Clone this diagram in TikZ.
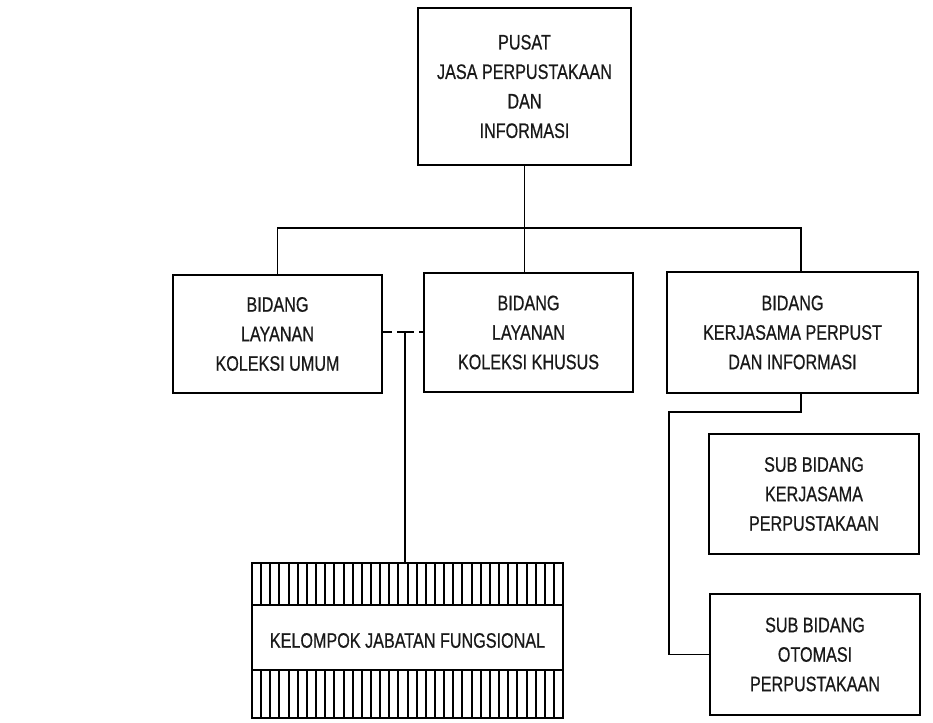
\documentclass[tikz,border=0pt]{standalone}
\usepackage{fontspec}
\setmainfont[FakeStretch=0.77,FakeBold=0.6]{Liberation Sans}
\begin{document}
\begin{tikzpicture}[x=1pt,y=-1pt,
  orgbox/.style={draw=black, line width=1.8pt, fill=white, align=center, inner sep=0pt,
    font=\fontsize{21}{29.5}\selectfont, text=black!90},
  conn/.style={line width=1.5pt, black}]
\useasboundingbox (0,0) rectangle (933,722);
\node[orgbox, minimum width=213, minimum height=157] (top) at (524.5,86.5)
  {PUSAT\\JASA PERPUSTAKAAN\\DAN\\INFORMASI};
\node[orgbox, minimum width=209, minimum height=118] (L) at (277.5,334)
  {BIDANG\\LAYANAN\\KOLEKSI UMUM};
\node[orgbox, minimum width=209, minimum height=119] (M) at (528.5,332.5)
  {BIDANG\\LAYANAN\\KOLEKSI KHUSUS};
\node[orgbox, minimum width=251, minimum height=121] (R) at (792.5,332.5)
  {BIDANG\\KERJASAMA PERPUST\\DAN INFORMASI};
\node[orgbox, minimum width=210, minimum height=120] (S1) at (814,494)
  {SUB BIDANG\\KERJASAMA\\PERPUSTAKAAN};
\node[orgbox, minimum width=210, minimum height=121] (S2) at (815,654.5)
  {SUB BIDANG\\OTOMASI\\PERPUSTAKAAN};
\node[orgbox, minimum width=311, minimum height=155] (K) at (407.5,640.5)
  {KELOMPOK JABATAN FUNGSIONAL};
% hatched bands of K
\draw[line width=1.4pt] (K.west |- 0,605) -- (K.east |- 0,605);
\draw[line width=1.4pt] (K.west |- 0,670) -- (K.east |- 0,670);
\foreach \i in {1,...,33} {
  \draw[line width=2pt] ({252+\i*9.15},563) -- ({252+\i*9.15},605);
  \draw[line width=2pt] ({252+\i*9.15},670) -- ({252+\i*9.15},718);
}
% connectors
\coordinate (bar) at (524.5,228);
\coordinate (rb) at (669,412);
\coordinate (dl) at (382,332);
\coordinate (dr) at (424,332);
\coordinate (tj) at (405,332);
\draw[conn] (top.south) -- (top.south |- M.north);
\draw[conn] (L.north) |- (bar) -| ([xshift=8.5pt]R.north);
\draw[conn] ([xshift=8.5pt]R.south) |- (rb) |- (S2.west);
\draw[conn, dash pattern=on 10pt off 5pt on 17pt off 5pt on 10pt] (dl) -- (dr);
\draw[conn] (tj) -- (K.north -| tj);
\end{tikzpicture}
\end{document}
